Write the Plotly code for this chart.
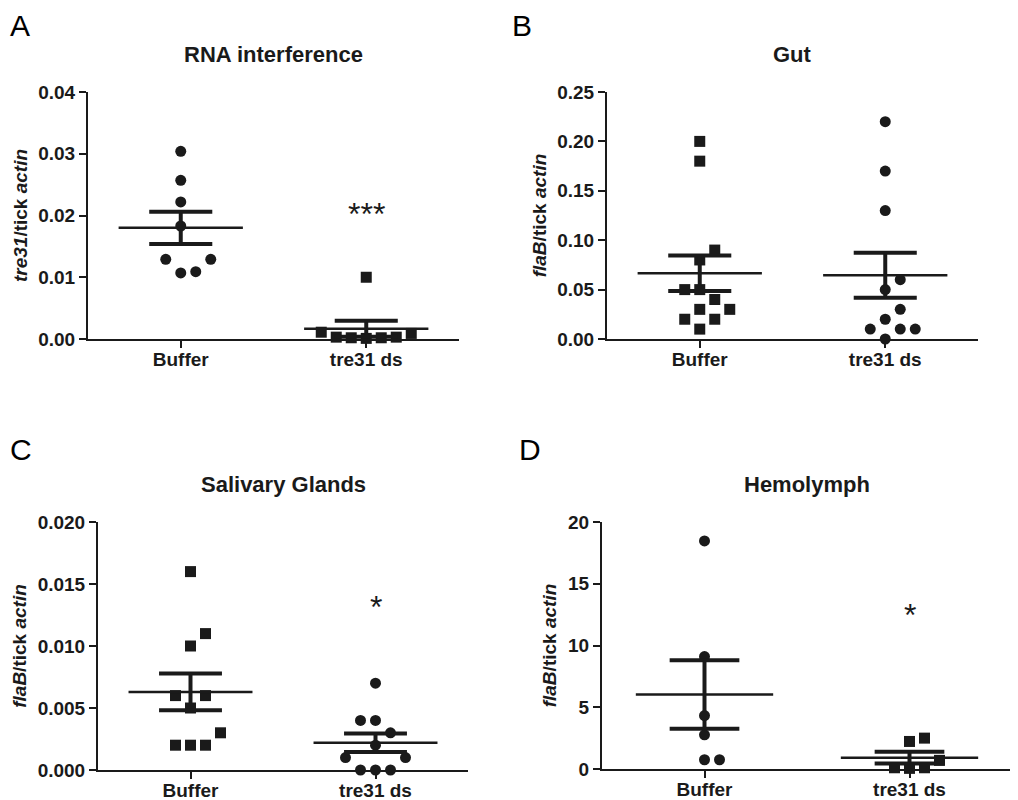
import math
import plotly.graph_objects as go

W, H = 1018, 800
PAGE = 8  # default body margin of the html page

categories = ["Buffer", "tre31 ds"]

# A - RNA interference
rna_buffer = [0.0304, 0.0257, 0.0222, 0.0183, 0.0129, 0.0129, 0.0107, 0.0109]
rna_tre31 = [0.0011, 0.0003, 0.0002, 0.0001, 0.0002, 0.0003, 0.0009, 0.0100]
rna_mean = [0.0180, 0.00167]
rna_sem = [0.0026, 0.0013]

# B - Gut
gut_buffer = [0.20, 0.18, 0.09, 0.08, 0.05, 0.05, 0.04, 0.03, 0.02, 0.03, 0.02, 0.01]
gut_tre31 = [0.22, 0.17, 0.13, 0.06, 0.05, 0.03, 0.02, 0.01, 0.01, 0.01, 0.00]
gut_mean = [0.0666, 0.0646]
gut_sem = [0.0179, 0.0228]

# C - Salivary glands
sg_buffer = [0.016, 0.011, 0.010, 0.006, 0.006, 0.005, 0.003, 0.002, 0.002, 0.002]
sg_tre31 = [0.007, 0.004, 0.004, 0.003, 0.002, 0.001, 0.001, 0.000, 0.000, 0.000]
sg_mean = [0.0063, 0.0022]
sg_sem = [0.00148, 0.00074]

# D - Hemolymph
hl_buffer = [18.47, 9.10, 4.33, 2.77, 0.75, 0.75]
hl_tre31 = [2.50, 2.23, 0.70, 0.10, 0.05, 0.10]
hl_mean = [6.03, 0.92]
hl_sem = [2.78, 0.47]

# significance marks (text, y value) over tre31 ds
rna_star = ("***", 0.0214)
sg_star = ("*", 0.0137)
hl_star = ("*", 13.0)

FONT = "Arial, Liberation Sans, Helvetica, sans-serif"
INK = "#1a1a1a"

panels = [
    dict(letter="A", title="RNA interference", ytitle="<i>tre31</i>/tick <i>actin</i>",
         groups=[rna_buffer, rna_tre31], mean=rna_mean, sem=rna_sem,
         symbols=["circle", "square"], yrange=[0, 0.04], dtick=0.01, fmt=".2f",
         star=rna_star, box=(88, 459, 92, 339), lpos=(9, 8)),
    dict(letter="B", title="Gut", ytitle="<i>flaB</i>/tick <i>actin</i>",
         groups=[gut_buffer, gut_tre31], mean=gut_mean, sem=gut_sem,
         symbols=["square", "circle"], yrange=[0, 0.25], dtick=0.05, fmt=".2f",
         star=None, box=(607, 978, 92, 339), lpos=(511, 8)),
    dict(letter="C", title="Salivary Glands", ytitle="<i>flaB</i>/tick <i>actin</i>",
         groups=[sg_buffer, sg_tre31], mean=sg_mean, sem=sg_sem,
         symbols=["square", "circle"], yrange=[0, 0.02], dtick=0.005, fmt=".3f",
         star=sg_star, box=(98, 468, 522, 770), lpos=(9, 432)),
    dict(letter="D", title="Hemolymph", ytitle="<i>flaB</i>/tick <i>actin</i>",
         groups=[hl_buffer, hl_tre31], mean=hl_mean, sem=hl_sem,
         symbols=["circle", "square"], yrange=[0, 20], dtick=5, fmt="d",
         star=hl_star, box=(602, 1012, 522, 769), lpos=(518, 432)),
]


def fx(px):
    return (px - PAGE) / W


def fy(py):
    return 1 - (py - PAGE) / H


def swarm(values, center, px_y, px_x, step=15, gap=14):
    # simple greedy beeswarm in pixel space
    order = sorted(range(len(values)), key=lambda i: values[i])
    cands = [0]
    for k in range(1, 12):
        cands += [k, -k]
    placed = []
    xs = [0.0] * len(values)
    for i in order:
        yp = values[i] * px_y
        for c in cands:
            xp = c * step
            if all(math.hypot(xp - a, yp - b) >= gap for a, b in placed):
                break
        placed.append((xp, yp))
        xs[i] = center + xp / px_x
    return xs


fig = go.Figure()
annotations = []
layout = {}

for n, p in enumerate(panels):
    sfx = "" if n == 0 else str(n + 1)
    xa, ya = "x" + sfx, "y" + sfx
    x0, x1, y0, y1 = p["box"]
    px_x = (x1 - x0) / 2.0
    px_y = (y1 - y0) / p["yrange"][1]

    for g, vals in enumerate(p["groups"]):
        xs = swarm(vals, g, px_y, px_x)
        fig.add_trace(go.Scatter(
            x=xs, y=vals, mode="markers", xaxis=xa, yaxis=ya, cliponaxis=False,
            marker=dict(symbol=p["symbols"][g], size=11, color=INK),
            showlegend=False, hoverinfo="y"))
        m, s = p["mean"][g], p["sem"][g]
        # mean line
        fig.add_trace(go.Scatter(
            x=[g - 0.335, g + 0.335], y=[m, m], mode="lines", xaxis=xa, yaxis=ya,
            line=dict(color=INK, width=2.5), showlegend=False, hoverinfo="skip",
            cliponaxis=False))
        # sem whisker and caps
        fig.add_trace(go.Scatter(
            x=[g, g, None, g - 0.17, g + 0.17, None, g - 0.17, g + 0.17],
            y=[m - s, m + s, None, m + s, m + s, None, m - s, m - s],
            mode="lines", xaxis=xa, yaxis=ya, cliponaxis=False,
            line=dict(color=INK, width=4), showlegend=False, hoverinfo="skip"))

    layout["xaxis" + sfx] = dict(
        domain=[fx(x0), fx(x1)], anchor=ya, range=[-0.5, 1.5], automargin=False,
        tickvals=[0, 1], ticktext=categories, ticks="outside", ticklen=7, tickwidth=2,
        tickcolor=INK, showline=True, linewidth=2, linecolor=INK, showgrid=False,
        zeroline=False, fixedrange=True, ticklabelstandoff=-5,
        tickfont=dict(family=FONT, size=19, color=INK, weight="bold"))
    layout["yaxis" + sfx] = dict(
        domain=[fy(y1), fy(y0)], anchor=xa, range=p["yrange"], automargin=False,
        dtick=p["dtick"], tick0=0, tickformat=p["fmt"], ticks="outside", ticklen=7,
        tickwidth=2, tickcolor=INK, showline=True, linewidth=2, linecolor=INK,
        showgrid=False, zeroline=False, fixedrange=True,
        tickfont=dict(family=FONT, size=19, color=INK, weight="bold"),
        title=dict(text=p["ytitle"], standoff=6,
                   font=dict(family=FONT, size=19, color=INK, weight="bold")))

    # panel title
    annotations.append(dict(
        text=p["title"], xref=xa + " domain", x=0.5, yref="paper", y=fy(y0 - 37),
        xanchor="center", yanchor="middle", showarrow=False,
        font=dict(family=FONT, size=22, color=INK, weight="bold")))
    # panel letter (anchored at its top-left corner, inside the page)
    annotations.append(dict(
        text=p["letter"], xref="paper", x=fx(p["lpos"][0]), yref="paper",
        y=fy(p["lpos"][1]), xanchor="left", yanchor="top", showarrow=False,
        borderpad=0, font=dict(family=FONT, size=30, color="#000000")))
    if p["star"]:
        annotations.append(dict(
            text=p["star"][0], xref=xa, x=1, yref=ya, y=p["star"][1], yshift=-7,
            xanchor="center", yanchor="middle", showarrow=False,
            font=dict(family=FONT, size=32, color=INK)))

fig.update_layout(
    width=W, height=H, margin=dict(l=0, r=0, t=0, b=0),
    paper_bgcolor="white", plot_bgcolor="white",
    annotations=annotations, **layout)

fig.write_html("out.html")
